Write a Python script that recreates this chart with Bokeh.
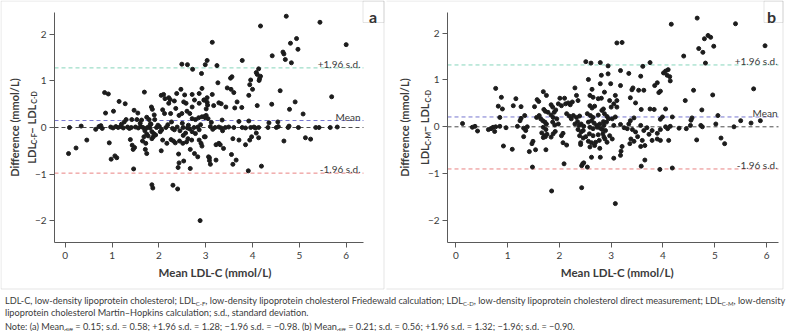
import math
from bokeh.plotting import figure
from bokeh.models import Range1d, Label, BoxAnnotation, FixedTicker, Div
from bokeh.layouts import row, column
from bokeh.embed import file_html
from bokeh.resources import INLINE

FONT = "Lato"
INK = "#3b3b3b"
FRAME = "#a6a6a6"
DOT = "#1c1c1c"

x_ticks = [0, 1, 2, 3, 4, 5, 6]
y_ticks = [-2, -1, 0, 1, 2]

# (a) Friedewald vs direct: mean of the two methods and their difference (mmol/L)
a_mean_ldl = [
    0.07, 0.23, 0.09, 0.34, 0.46, 0.65, 0.72, 0.76, 0.79, 0.84,
    0.92, 0.86, 0.94, 0.98, 1.06, 1.10, 1.03, 1.15, 1.28, 1.47,
    1.55, 1.30, 1.42, 1.53, 1.39, 1.43, 1.48, 1.45, 1.46, 1.69,
    1.84, 1.86, 1.65, 1.71, 1.74, 1.85, 1.89, 1.91, 1.79, 2.05,
    2.10, 2.13, 2.21, 2.24, 2.08, 2.12, 2.21, 2.33, 2.25, 2.03,
    2.05, 2.08, 2.17, 2.26, 2.31, 2.35, 2.38, 2.47, 2.36, 2.43,
    2.42, 2.43, 2.41, 2.53, 2.67, 2.55, 2.71, 2.72, 2.61, 2.49,
    2.91, 2.99, 0.97, 1.02, 1.08, 1.13, 1.19, 1.24, 1.33, 1.37,
    1.41, 1.50, 1.56, 1.61, 1.66, 1.72, 1.77, 1.81, 1.95, 2.01,
    2.15, 2.29, 2.39, 2.52, 2.61, 2.75, 2.83, 1.20, 1.26, 1.60,
    1.70, 1.74, 1.77, 1.82, 1.98, 2.06, 2.19, 2.27, 2.33, 2.45,
    2.50, 2.57, 2.63, 2.66, 2.71, 2.78, 2.86, 2.89, 2.58, 2.53,
    2.71, 2.76, 2.86, 2.92, 3.03, 2.97, 2.86, 2.49, 2.60, 2.66,
    2.71, 2.78, 2.85, 2.92, 2.99, 3.05, 2.52, 2.62, 2.70, 2.86,
    2.97, 2.44, 2.51, 2.59, 2.67, 2.76, 2.83, 2.90, 3.08, 3.08,
    1.85, 1.87, 2.30, 2.40, 2.88, 1.63, 1.74, 1.90, 1.83, 1.85,
    1.88, 1.93, 1.68, 1.72, 4.72, 5.44, 4.17, 3.14, 4.81, 4.94,
    4.97, 6.00, 4.42, 4.65, 4.67, 4.70, 4.83, 3.78, 3.03, 3.24,
    4.13, 4.08, 4.10, 4.15, 4.17, 4.14, 3.56, 3.53, 3.96, 4.00,
    3.92, 3.94, 3.26, 3.46, 3.54, 3.60, 3.14, 3.67, 3.62, 3.43,
    3.28, 3.33, 3.17, 3.77, 4.10, 4.41, 4.59, 4.91, 4.79, 5.69,
    5.08, 3.20, 3.28, 3.33, 3.42, 3.49, 3.60, 3.78, 3.85, 3.96,
    4.03, 4.06, 4.13, 4.33, 4.51, 4.55, 4.76, 4.78, 4.98, 5.35,
    5.42, 5.66, 5.81, 3.35, 3.71, 3.92, 4.35, 4.54, 3.36, 3.58,
    3.71, 3.85, 3.98, 4.08, 4.13, 3.94, 4.67, 5.13, 5.24, 3.22,
    3.28, 3.31, 3.38, 3.55, 3.65, 3.58, 3.06, 3.10, 3.22, 3.91,
    4.19, 2.92, 2.99, 3.01, 2.98, 3.01, 3.04, 2.96, 3.03, 3.12,
    3.15, 3.10,
]
a_diff = [
    -0.56, -0.44, 0.00, 0.03, -0.27, -0.04, 0.02, 0.04, -0.02, 0.75,
    0.72, 0.31, -0.33, -0.68, -0.61, -0.65, 0.35, 0.56, 0.51, 0.37,
    0.31, 0.17, 0.17, 0.17, -0.26, -0.38, -0.43, -0.47, -0.89, 0.76,
    0.44, 0.39, -0.29, -0.47, -0.56, -0.24, -0.13, 0.17, 0.17, 0.69,
    0.71, 0.62, 0.64, 0.60, 0.38, 0.30, 0.52, 0.57, 0.30, -0.09,
    -0.50, -0.27, -0.34, -0.26, -0.29, -0.33, 0.73, 0.82, 0.41, 0.26,
    -0.57, -0.76, -0.86, -0.72, -0.88, 0.70, 0.71, 1.25, 1.35, 1.36,
    1.16, 1.35, 0.01, -0.01, 0.02, 0.00, 0.02, -0.01, 0.01, -0.02,
    0.00, 0.01, -0.01, 0.02, 0.00, -0.02, 0.01, -0.01, 0.00, 0.02,
    0.00, -0.02, 0.01, 0.00, -0.01, 0.00, 0.01, 0.07, 0.12, 0.09,
    -0.07, -0.14, -0.18, 0.08, 0.05, -0.05, 0.06, 0.12, -0.05, -0.07,
    0.09, -0.12, 0.05, -0.03, -0.09, -0.13, -0.05, 0.06, 0.52, 0.55,
    0.44, 0.59, 0.73, 0.84, 0.54, 0.59, 0.52, 0.30, 0.35, 0.30,
    0.19, 0.17, 0.21, 0.23, 0.21, 0.19, -0.17, -0.24, -0.27, -0.27,
    -0.20, -0.29, -0.34, -0.31, -0.47, -0.56, -0.63, -0.34, -0.65, -0.71,
    -1.23, -1.30, -1.24, -1.32, -2.00, 0.16, 0.22, 0.27, 0.07, -0.09,
    -0.20, -0.16, -0.20, -0.34, 2.39, 2.26, 2.18, 1.83, 1.81, 1.91,
    1.68, 1.78, 1.54, 1.62, 1.58, 1.46, 1.39, 1.44, 1.44, 1.33,
    1.26, 1.18, 1.14, 1.05, 1.10, 1.01, 1.09, 1.06, 1.02, 0.82,
    0.69, 0.92, 0.96, 0.85, 0.82, 0.75, 0.71, 0.55, 0.42, 0.44,
    0.53, 0.51, 0.47, 0.43, 0.47, 0.50, 0.79, 0.55, 0.39, 0.66,
    0.29, 0.00, 0.01, -0.01, 0.00, 0.01, 0.00, 0.00, -0.01, 0.00,
    0.01, -0.01, 0.00, 0.00, 0.00, 0.02, 0.00, 0.03, 0.00, 0.00,
    0.00, 0.00, 0.01, 0.16, 0.13, 0.14, 0.10, 0.12, -0.07, -0.24,
    -0.27, -0.37, -0.20, -0.12, -0.22, -0.27, -0.29, -0.22, -0.25, -0.37,
    -0.34, -0.37, -0.45, -0.58, -0.70, -0.79, -0.63, -0.79, -0.70, -0.93,
    -0.83, -0.40, -0.20, 0.26, 0.24, 0.40, 0.48, 0.59, 0.64, 0.11,
    -0.04, 0.02,
]

# (b) Martin-Hopkins vs direct
b_mean_ldl = [
    0.13, 0.32, 0.37, 0.42, 0.63, 0.68, 0.72, 0.77, 0.88, 0.82,
    0.90, 0.85, 0.77, 0.85, 0.75, 0.92, 0.97, 1.09, 1.11, 1.16,
    1.19, 1.24, 1.26, 1.26, 1.33, 1.31, 1.35, 1.38, 1.31, 1.42,
    1.49, 1.47, 1.54, 1.48, 1.52, 1.57, 1.60, 1.56, 1.61, 1.64,
    1.69, 1.75, 1.70, 1.73, 1.68, 1.72, 1.75, 1.69, 1.74, 1.66,
    1.71, 1.73, 1.76, 1.69, 1.74, 1.84, 1.87, 1.90, 1.93, 1.78,
    1.84, 1.88, 1.95, 1.87, 1.91, 1.98, 1.84, 1.88, 1.92, 1.98,
    2.01, 2.04, 2.10, 2.12, 2.14, 2.19, 2.23, 2.07, 2.14, 2.07,
    2.04, 2.17, 2.21, 2.25, 2.30, 2.33, 2.36, 2.27, 2.33, 2.39,
    2.30, 2.35, 2.38, 2.42, 2.47, 2.36, 2.42, 2.46, 2.39, 2.46,
    2.51, 2.41, 2.41, 2.45, 2.43, 2.47, 2.54, 2.09, 2.51, 2.61,
    2.79, 2.56, 2.63, 2.79, 2.81, 2.59, 2.65, 2.75, 2.81, 2.59,
    2.63, 2.68, 2.54, 2.60, 2.65, 2.75, 2.85, 2.56, 2.62, 2.67,
    2.72, 2.78, 2.85, 2.59, 2.65, 2.73, 2.79, 2.58, 2.65, 2.75,
    2.84, 2.56, 2.62, 2.70, 2.77, 2.59, 2.68, 2.78, 2.62, 2.79,
    2.86, 2.88, 1.85, 2.43, 3.08, 4.66, 4.16, 5.40, 3.11, 3.21,
    4.80, 4.87, 4.92, 4.98, 4.69, 4.77, 4.82, 4.40, 5.97, 3.75,
    3.61, 3.18, 3.34, 2.94, 4.01, 4.05, 4.10, 4.08, 4.13, 4.14,
    3.89, 3.84, 3.95, 3.92, 3.42, 3.40, 3.53, 3.63, 3.57, 2.94,
    2.99, 3.18, 2.87, 3.08, 3.11, 2.97, 3.05, 3.00, 3.11, 3.37,
    3.47, 3.58, 3.75, 3.83, 4.05, 4.43, 4.59, 4.75, 4.96, 5.06,
    5.75, 4.56, 4.54, 4.18, 3.99, 3.95, 3.44, 3.37, 3.34, 3.18,
    3.25, 3.31, 3.41, 3.57, 3.63, 3.69, 4.05, 4.09, 4.14, 4.31,
    4.53, 4.73, 4.76, 5.02, 5.37, 5.50, 5.70, 5.88, 4.45, 3.95,
    3.89, 3.79, 3.73, 3.47, 3.51, 3.38, 3.44, 3.36, 3.60, 3.65,
    3.57, 3.79, 3.89, 3.95, 4.11, 4.65, 5.12, 5.19, 3.21, 3.19,
    3.18, 3.05, 2.97, 3.02, 2.92, 2.89, 2.83, 3.58, 3.65, 3.94,
    4.18, 2.82, 2.87, 2.92, 2.95, 2.91, 2.86, 3.05, 3.02, 3.08,
]
b_diff = [
    0.07, -0.01, 0.01, -0.09, -0.06, -0.04, -0.01, 0.82, 0.63, 0.44,
    0.38, 0.20, 0.00, 0.01, -0.10, -0.41, -0.02, -0.48, 0.45, 0.60,
    0.01, 0.13, 0.18, 0.43, 0.24, -0.03, -0.08, 0.00, -0.21, -0.53,
    -0.31, -0.36, -0.49, -0.86, 0.43, 0.58, 0.54, 0.20, 0.24, 0.17,
    0.75, 0.67, 0.37, 0.33, 0.13, 0.10, 0.06, -0.01, -0.06, -0.13,
    -0.19, -0.21, -0.16, -0.23, -0.49, 0.47, 0.42, 0.31, 0.36, 0.31,
    0.25, 0.20, 0.17, 0.10, 0.04, 0.06, -0.22, -0.15, -0.10, 0.49,
    0.61, 0.45, 0.61, 0.49, 0.28, 0.23, 0.17, -0.34, -0.39, -0.14,
    -0.19, 0.51, 0.47, 0.53, 0.83, 0.67, 0.56, 0.24, 0.20, 0.23,
    0.06, 0.11, 0.03, 0.06, 0.01, -0.06, -0.11, -0.08, -0.19, -0.24,
    -0.21, -0.34, -0.38, -0.79, -0.83, -0.77, -0.86, -0.79, 1.39, 1.36,
    1.37, 1.01, 0.80, 0.92, 1.10, 0.67, 0.63, 0.60, 0.61, 0.45,
    0.40, 0.44, 0.28, 0.24, 0.20, 0.25, 0.38, 0.10, 0.13, 0.08,
    0.03, 0.06, 0.11, -0.01, -0.04, -0.01, -0.03, -0.15, -0.19, -0.17,
    -0.15, -0.31, -0.34, -0.33, -0.29, -0.43, -0.40, -0.46, -0.65, -0.65,
    -0.22, -0.26, -1.37, -1.30, -1.64, 2.32, 2.19, 2.20, 1.79, 1.80,
    1.88, 1.95, 1.91, 1.72, 1.67, 1.59, 1.36, 1.51, 1.73, 1.37,
    1.29, 1.20, 1.14, 1.30, 1.15, 1.19, 1.22, 1.10, 1.07, 0.98,
    0.94, 0.88, 0.76, 0.73, 0.83, 0.79, 0.78, 0.78, 1.08, 1.13,
    0.92, 0.88, 0.74, 0.67, 0.56, 0.56, 0.49, 0.42, 0.42, 0.62,
    0.51, 0.37, 0.38, 0.37, 0.38, 0.56, 0.78, 0.36, 0.68, 0.24,
    0.81, 0.19, 0.14, 0.21, 0.21, 0.16, 0.19, 0.13, 0.06, 0.05,
    -0.02, -0.04, -0.06, 0.03, -0.08, -0.02, 0.00, -0.04, 0.01, -0.03,
    0.03, 0.03, 0.00, 0.06, 0.00, 0.13, 0.08, 0.13, -0.04, -0.06,
    -0.14, -0.08, -0.16, -0.11, -0.21, -0.26, -0.31, -0.36, -0.29, -0.40,
    -0.42, -0.29, -0.26, -0.29, -0.29, -0.28, -0.24, -0.36, -0.42, -0.52,
    -0.61, -0.67, -0.19, -0.26, -0.33, -0.08, -0.06, -0.84, -0.71, -0.91,
    -0.88, 0.35, 0.28, 0.22, 0.17, 0.10, 0.03, 0.03, 0.17, 0.21,
]

# Bland-Altman summary statistics
a_stats = {"mean": 0.15, "sd": 0.58, "upper": 1.28, "lower": -0.98}
b_stats = {"mean": 0.21, "sd": 0.56, "upper": 1.32, "lower": -0.90}

line_colors = {"zero": "#4a4a4a", "mean": "#7676cf", "upper": "#86d5bb", "lower": "#e98282"}
line_texts = [("upper", "+1.96 s.d."), ("mean", "Mean"), ("lower", "-1.96 s.d.")]

# rough bold advance widths (em) used to chain the subscripted axis title
BOLD_EM = {"L": 0.50, "D": 0.74, "C": 0.66, "F": 0.53, "M": 0.90, "-": 0.37, " ": 0.20, "\u2212": 0.58}


def text_width(s, size):
    return sum(BOLD_EM.get(c, 0.55) for c in s) * size


H = 290            # panel height in px
PLOT_TOP, PLOT_BOTTOM = 12, 242   # pixel rows spanned by the axes


def build_panel(xs, ys, stats, letter, method, W, plot_lr, xr, yr, cfg):
    """The frame fills the whole canvas; axes sit at fixed data locations with bounds."""
    pl, pr = plot_lr
    kx = (pr - pl) / (xr[1] - xr[0])
    ky = (PLOT_BOTTOM - PLOT_TOP) / (yr[1] - yr[0])
    full_x = (xr[0] - pl / kx, xr[1] + (W - pr) / kx)
    full_y = (yr[0] - (H - PLOT_BOTTOM) / ky, yr[1] + PLOT_TOP / ky)

    p = figure(width=W, height=H, x_range=Range1d(*full_x), y_range=Range1d(*full_y),
               min_border=0, output_backend="svg", toolbar_location=None)
    p.grid.visible = False
    p.outline_line_color = None
    p.background_fill_color = "white"
    p.border_fill_color = "white"

    def sy(cy):
        return H - cy

    p.xaxis.fixed_location = yr[0]
    p.yaxis.fixed_location = xr[0]
    p.xaxis.bounds = xr
    p.yaxis.bounds = yr
    for ax in (p.xaxis, p.yaxis):
        ax.axis_line_color = "#5a5a5a"
        ax.major_tick_line_color = "#5a5a5a"
        ax.minor_tick_line_color = None
        ax.major_tick_out = 5
        ax.major_tick_in = 0
        ax.major_label_text_font = FONT
        ax.major_label_text_font_size = "10px"
        ax.major_label_text_color = INK
    p.xaxis.ticker = FixedTicker(ticks=x_ticks)
    p.yaxis.ticker = FixedTicker(ticks=y_ticks)
    p.xaxis.major_label_standoff = 4
    p.yaxis.major_label_standoff = 3

    # zero, mean and limits of agreement, drawn across the axes' extent
    for key in ("zero", "mean", "upper", "lower"):
        level = 0.0 if key == "zero" else stats[key]
        p.segment(x0=xr[0], y0=level, x1=xr[1], y1=level, line_color=line_colors[key],
                  line_width=1, line_dash="4 3")

    p.scatter(xs, ys, size=4.0, color=DOT, line_color=DOT)

    for key, txt in line_texts:
        p.add_layout(Label(x=cfg["stat_right"], y=stats[key] + 0.085, x_units="screen", y_units="data",
                           text=txt, text_align="right", text_baseline="alphabetic",
                           text_font=FONT, text_font_size="10px", text_color=INK))

    # x-axis title
    p.add_layout(Label(x=cfg["xlab_cx"], y=sy(272), x_units="screen", y_units="screen",
                       text="Mean LDL-C (mmol/L)", text_align="center", text_baseline="middle",
                       text_font=FONT, text_font_style="bold", text_font_size="11.5px", text_color=INK))

    # y-axis title, two rotated lines
    p.add_layout(Label(x=cfg["lab1_x"], y=sy(cfg["lab_cy"]), x_units="screen", y_units="screen",
                       text="Difference (mmol/L)", angle=math.pi / 2, text_align="center",
                       text_baseline="middle", text_font=FONT, text_font_style="bold",
                       text_font_size="11px", text_color=INK))
    parts = [("LDL", False), (method, True), (" \u2212 LDL", False), ("C-D", True)]
    big, small = 11, 7
    total = sum(text_width(t, small if s else big) for t, s in parts)
    ypos = sy(cfg["lab_cy"]) - total / 2
    for t, s in parts:
        size = small if s else big
        p.add_layout(Label(x=cfg["lab2_base"] + (2.8 if s else 0), y=ypos,
                           x_units="screen", y_units="screen", text=t, angle=math.pi / 2,
                           text_align="left", text_baseline="alphabetic", text_font=FONT,
                           text_font_style="bold", text_font_size=f"{size}px", text_color=INK))
        ypos += text_width(t, size)

    # panel frame and letter tab
    bl, br = cfg["box"]
    p.add_layout(BoxAnnotation(left=bl, right=br, top=sy(0.5), bottom=sy(288.5),
                               left_units="screen", right_units="screen",
                               top_units="screen", bottom_units="screen",
                               fill_alpha=0, line_color=FRAME, line_width=1))
    p.add_layout(BoxAnnotation(left=cfg["tab_left"], right=br, top=sy(0.5), bottom=sy(22),
                               left_units="screen", right_units="screen",
                               top_units="screen", bottom_units="screen",
                               fill_alpha=0, line_color=FRAME, line_width=1))
    p.add_layout(Label(x=cfg["letter_cx"], y=sy(16), x_units="screen", y_units="screen",
                       text=letter, text_align="center", text_baseline="alphabetic",
                       text_font=FONT, text_font_style="bold", text_font_size="16px",
                       text_color="#333333"))
    return p


pa = build_panel(a_mean_ldl, a_diff, a_stats, "a", "C-F", 386, (54, 363), (-0.23, 6.37), (-2.47, 2.47),
                 {"stat_right": 360, "xlab_cx": 214.5, "lab1_x": 13.7, "lab2_base": 30.5, "lab_cy": 127,
                  "box": (0.5, 383.5), "tab_left": 362.5, "letter_cx": 372.5})
pb = build_panel(b_mean_ldl, b_diff, b_stats, "b", "C-M", 402, (61, 392), (-0.16, 6.23), (-2.47, 2.44),
                 {"stat_right": 391, "xlab_cx": 230.7, "lab1_x": 18, "lab2_base": 38.3, "lab_cy": 127,
                  "box": (-1, 396.5), "tab_left": 377.5, "letter_cx": 385})

sub = '<sub style="font-size:6px;line-height:0;vertical-align:-1.5px">{}</sub>'
line1 = ("LDL-C, low-density lipoprotein cholesterol; LDL" + sub.format("C-F")
         + ", low-density lipoprotein cholesterol Friedewald calculation; LDL" + sub.format("C-D")
         + ", low-density lipoprotein cholesterol direct measurement; LDL" + sub.format("C-M")
         + ", low-density")
line2 = "lipoprotein cholesterol Martin\u2013Hopkins calculation; s.d., standard deviation."


def fmt(v):
    return f"{v:.2f}".replace("-", "\u2212")


line3 = (f"Note: (a) Mean{sub.format('diff')} = {fmt(a_stats['mean'])}; s.d. = {fmt(a_stats['sd'])}; "
         f"+1.96 s.d. = {fmt(a_stats['upper'])}; \u22121.96 s.d. = {fmt(a_stats['lower'])}. "
         f"(b) Mean{sub.format('diff')} = {fmt(b_stats['mean'])}; s.d. = {fmt(b_stats['sd'])}; "
         f"+1.96 s.d. = {fmt(b_stats['upper'])}; \u22121.96; s.d. = {fmt(b_stats['lower'])}.")

caption = Div(text=(f'<div style="font-family:Lato;font-size:9.2px;line-height:11.5px;color:#3b3b3b;'
                    f'white-space:nowrap;margin:0;padding:0">{line1}<br>{line2}'
                    f'<div style="margin-top:3px">{line3}</div></div>'),
              width=788, height=41)

layout = column(row(pa, pb), caption)
open("out.html", "w").write(file_html(layout, INLINE))
